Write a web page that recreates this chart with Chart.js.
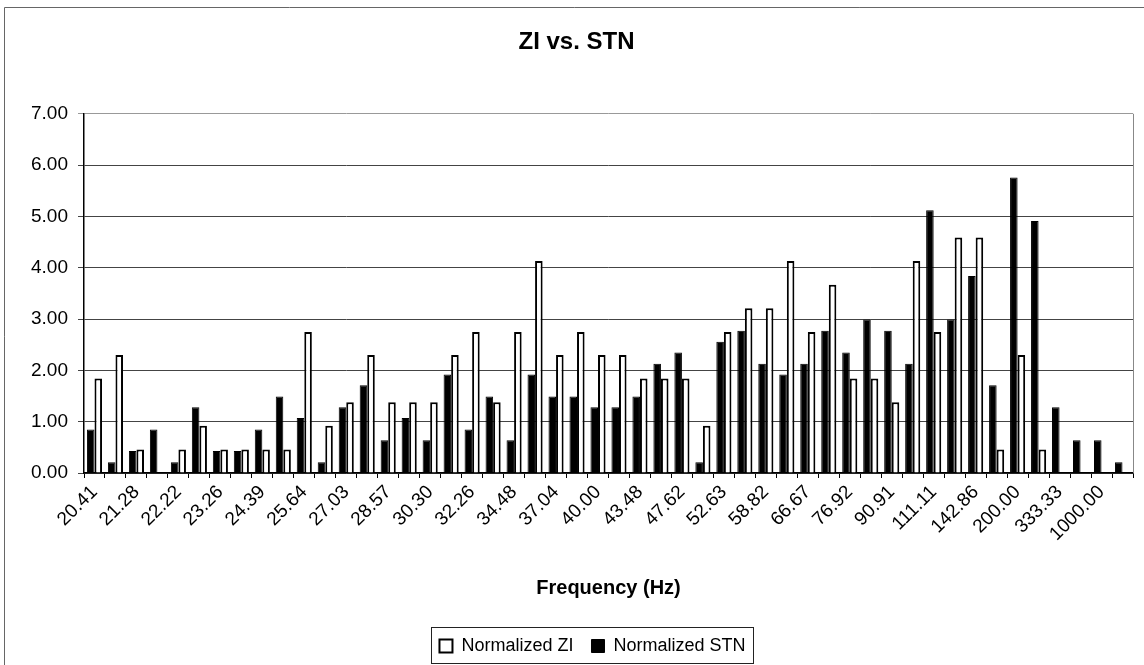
<!DOCTYPE html>
<html><head><meta charset="utf-8">
<script src="https://cdn.jsdelivr.net/npm/chart.js@4/dist/chart.umd.min.js"></script>
<style>html,body{margin:0;padding:0;background:#fff;}#wrap{width:1144px;height:665px;}</style>
</head><body><div id="wrap"><canvas id="c" width="1144" height="665"></canvas></div>
<script>
const chartTitle = 'ZI vs. STN';
const xAxisTitle = 'Frequency (Hz)';
const categories = ["20.41","20.83","21.28","21.74","22.22","22.73","23.26","23.81","24.39","25.00",
  "25.64","26.32","27.03","27.78","28.57","29.41","30.30","31.25","32.26","33.33",
  "34.48","35.71","37.04","38.46","40.00","41.67","43.48","45.45","47.62","50.00",
  "52.63","55.56","58.82","62.50","66.67","71.43","76.92","83.33","90.91","100.00",
  "111.11","125.00","142.86","166.67","200.00","250.00","333.33","500.00","1000.00",""];
const ziValues = [1.84,2.30,0.46,0,0.46,0.92,0.46,0.46,0.46,0.46,
  2.75,0.92,1.38,2.30,1.38,1.38,1.38,2.30,2.75,1.38,
  2.75,4.13,2.30,2.75,2.30,2.30,1.84,1.84,1.84,0.92,
  2.75,3.21,3.21,4.13,2.75,3.67,1.84,1.84,1.38,4.13,
  2.75,4.59,4.59,0.46,2.30,0.46,0,0,0,0];
const stnValues = [0.85,0.21,0.43,0.85,0.21,1.28,0.43,0.43,0.85,1.49,
  1.07,0.21,1.28,1.71,0.64,1.07,0.64,1.92,0.85,1.49,
  0.64,1.92,1.49,1.49,1.28,1.28,1.49,2.13,2.35,0.21,
  2.56,2.77,2.13,1.92,2.13,2.77,2.35,2.99,2.77,2.13,
  5.12,2.99,3.84,1.71,5.76,4.91,1.28,0.64,0.64,0.21];
const yMin = 0, yMax = 7, yStep = 1;

const FONT = "'Liberation Sans', Arial, sans-serif";

const legendShift = {
  id: 'legendShift',
  afterLayout(chart) {
    const lg = chart.legend;
    if (lg) { lg.left += 16; lg.right += 16; }
  }
};

const framePlugin = {
  id: 'frame',
  afterDraw(chart) {
    const {ctx, chartArea: a, legend} = chart;
    ctx.save();
    ctx.lineWidth = 1;
    ctx.strokeStyle = '#666';
    ctx.beginPath(); ctx.moveTo(4.5, 665); ctx.lineTo(4.5, 7.5); ctx.lineTo(1144, 7.5); ctx.stroke();
    ctx.strokeStyle = '#888';
    ctx.beginPath(); ctx.moveTo(Math.round(a.right) + 0.5, a.top); ctx.lineTo(Math.round(a.right) + 0.5, a.bottom); ctx.stroke();
    const hb = legend && legend.legendHitBoxes;
    if (hb && hb.length) {
      const l = Math.min(...hb.map(h => h.left)) - 8;
      const r = Math.max(...hb.map(h => h.left + h.width)) + 8;
      const t = hb[0].top - 10, b = hb[0].top + hb[0].height + 8;
      ctx.strokeStyle = '#222';
      ctx.strokeRect(Math.round(l) + 0.5, Math.round(t) + 0.5, Math.round(r - l), Math.round(b - t));
    }
    ctx.restore();
  }
};

new Chart(document.getElementById('c'), {
  type: 'bar',
  data: {
    labels: categories,
    datasets: [
      { label: 'Normalized STN', data: stnValues, backgroundColor: '#000', borderColor: '#000', borderWidth: 1 },
      { label: 'Normalized ZI', data: ziValues, backgroundColor: '#fff', borderColor: '#000', borderWidth: 2 }
    ]
  },
  options: {
    responsive: false, animation: false, devicePixelRatio: 1,
    layout: { padding: { left: 20, right: 11, top: 0, bottom: 0 } },
    datasets: { bar: { categoryPercentage: 0.72, barPercentage: 1.0 } },
    plugins: {
      title: { display: true, text: chartTitle, color: '#000',
        font: { family: FONT, size: 24, weight: 'bold' }, padding: { top: 28, bottom: 57 } },
      legend: { display: true, position: 'bottom',
        labels: { color: '#000', font: { family: FONT, size: 18 }, boxWidth: 13, boxHeight: 13, padding: 18,
          sort: (a, b) => b.datasetIndex - a.datasetIndex } },
      tooltip: { enabled: false }
    },
    scales: {
      x: {
        afterFit: (s) => { s.height = 146; },
        grid: { display: true, drawOnChartArea: false, drawTicks: true, tickLength: 5, color: '#000', offset: true },
        border: { display: true, color: '#000', width: 1.5 },
        ticks: { autoSkip: false, minRotation: 45, maxRotation: 45, padding: 3, color: '#000',
          font: { family: FONT, size: 19 },
          callback: (v, i) => (i % 2 === 0 ? categories[i] : '') },
        title: { display: true, text: xAxisTitle, color: '#000', font: { family: FONT, size: 20, weight: 'bold' },
          padding: { top: 0, bottom: 19 } }
      },
      y: {
        min: yMin, max: yMax,
        afterFit: (s) => { s.width = 64; },
        grid: { color: (c) => (c.tick && c.tick.value === yMax ? '#999' : '#444'), lineWidth: 1, tickLength: 6, drawTicks: true },
        border: { display: true, color: '#000', width: 1.5 },
        ticks: { stepSize: yStep, padding: 10, color: '#000', font: { family: FONT, size: 19 },
          callback: (v) => Number(v).toFixed(2) }
      }
    }
  },
  plugins: [legendShift, framePlugin]
});
</script></body></html>
